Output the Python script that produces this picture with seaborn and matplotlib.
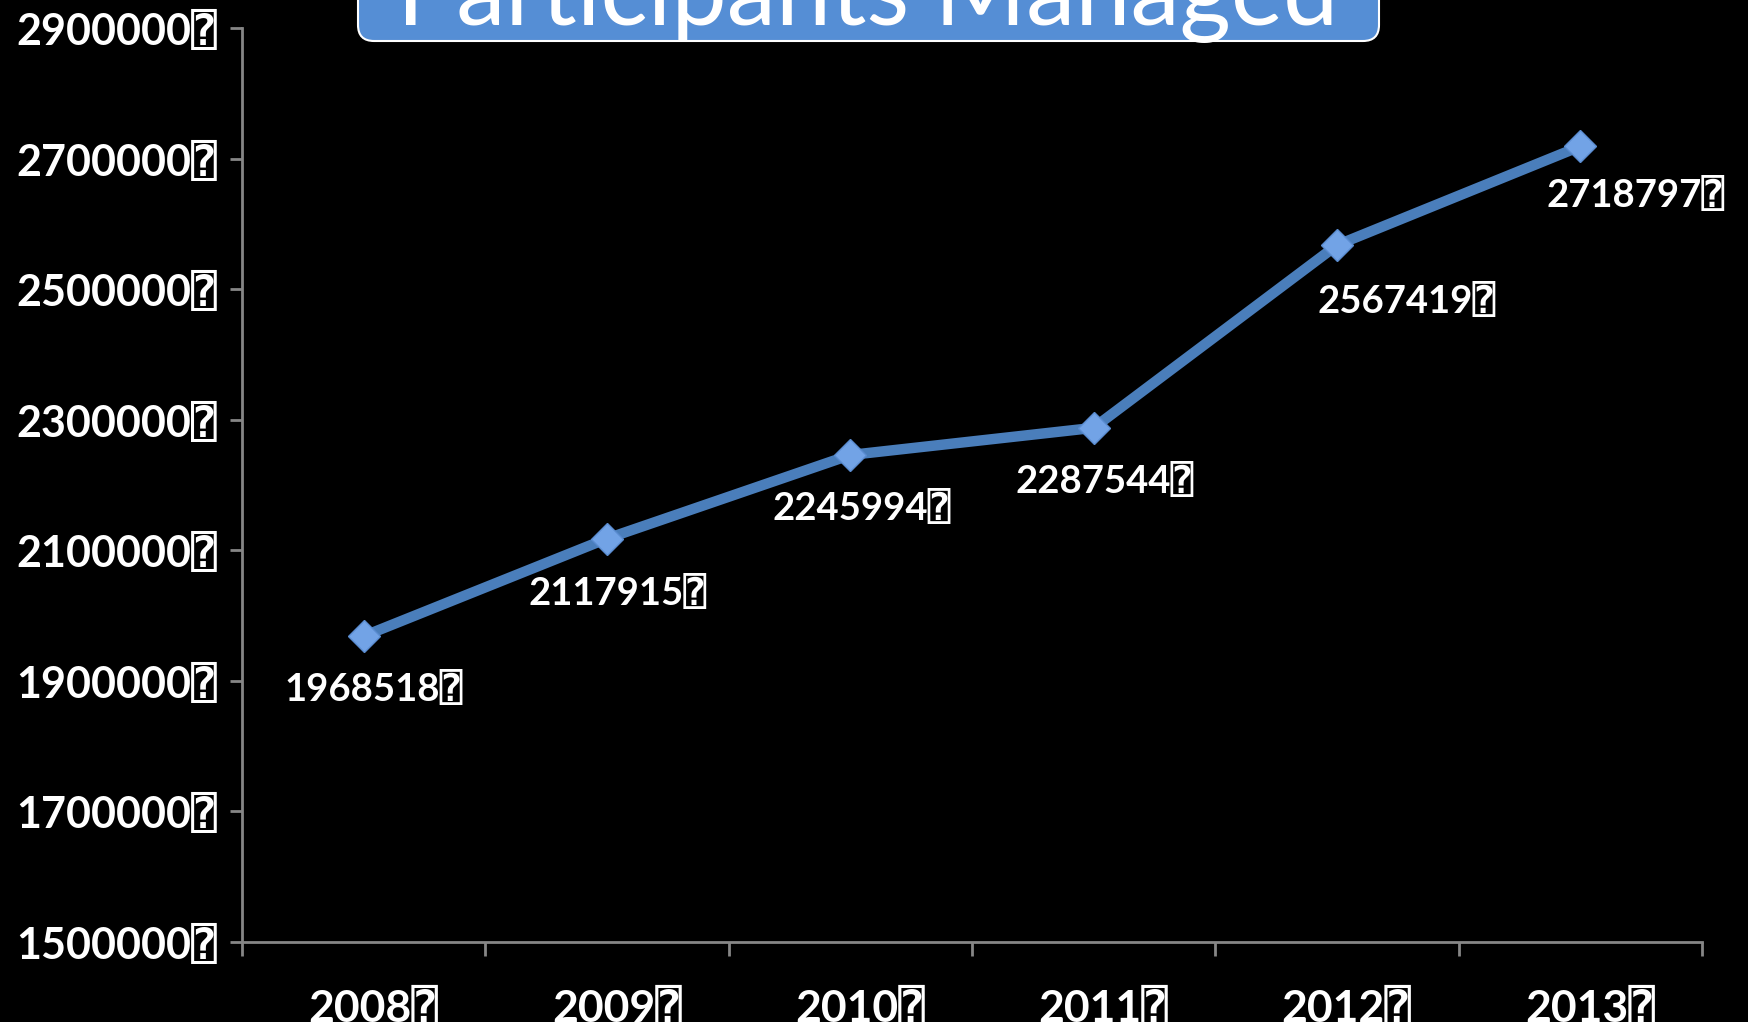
import numpy as np
import pandas as pd
import matplotlib
matplotlib.use('Agg')
import matplotlib.pyplot as plt
from matplotlib.patches import FancyBboxPatch
import seaborn as sns

# Data
years = ['2008', '2009', '2010', '2011', '2012', '2013']
participants = [1968518, 2117915, 2245994, 2287544, 2567419, 2718797]
y_ticks = [1500000, 1700000, 1900000, 2100000, 2300000, 2500000, 2700000, 2900000]
title = 'Participants Managed'
tofu = '\u2370'

# label offsets (points) for the data labels
label_dx = [7, 8, 8, 8, 50, 40]
label_dy = [-38, -39, -38, -38, -40, -35]

sns.set_style('dark')
plt.rcParams['font.family'] = ['Lato', 'DejaVu Sans', 'DejaVu Sans Mono']

df = pd.DataFrame({'Year': years, 'Participants': participants})

fig = plt.figure(figsize=(17.48, 10.22), dpi=100, facecolor='black')
ax = fig.add_axes([242 / 1748, 80 / 1022, 1460 / 1748, 914 / 1022])
ax.set_facecolor('black')

sns.lineplot(data=df, x='Year', y='Participants', ax=ax, color='#4a7ebb',
             linewidth=7.5, marker='D', markersize=16, markerfacecolor='#72a3e6',
             markeredgecolor='#5a8cd0', markeredgewidth=1)

for i, (yr, v) in enumerate(zip(years, participants)):
    ax.annotate(f'{v}{tofu}', (i, v), xytext=(label_dx[i], label_dy[i]),
                textcoords='offset points', ha='center', va='center',
                color='white', fontsize=27.5, fontweight='bold')

ax.set_xlim(-0.5, len(years) - 0.5)
ax.set_ylim(y_ticks[0], y_ticks[-1])
ax.set_yticks(y_ticks)
ax.set_yticklabels([f'{t}{tofu}' for t in y_ticks])
ax.set_xticks(np.arange(-0.5, len(years)), labels=[''] * (len(years) + 1))
ax.set_xticks(np.arange(len(years)) + 0.04, labels=[f'{y}{tofu}' for y in years], minor=True)
ax.tick_params(axis='x', which='major', bottom=True, length=10, width=2,
               color='#868686', direction='out')
ax.tick_params(axis='x', which='minor', bottom=True, length=0, pad=32, labelsize=32,
               labelcolor='white')
ax.tick_params(axis='y', left=True, length=9, width=2, color='#868686', direction='out',
               pad=9, labelsize=31, labelcolor='white')
for lab in ax.get_xticklabels(minor=True) + ax.get_yticklabels():
    lab.set_fontweight('bold')
ax.set_xlabel('')
ax.set_ylabel('')
ax.grid(False)
for side in ['top', 'right']:
    ax.spines[side].set_visible(False)
for side in ['left', 'bottom']:
    ax.spines[side].set_visible(True)
    ax.spines[side].set_color('#868686')
    ax.spines[side].set_linewidth(2)

# title box, cut by the top edge of the figure
box = FancyBboxPatch((3.58, 9.81), 10.21, 1.0,
                     boxstyle='round,pad=0,rounding_size=0.16',
                     transform=fig.dpi_scale_trans, facecolor='#558ed5',
                     edgecolor='white', linewidth=1.5, clip_on=False)
fig.add_artist(box)
t = fig.text(868 / 1748, 1 - 25 / 1022, title, ha='center', va='baseline',
             color='white', fontsize=60)
fig.canvas.draw()
w = t.get_window_extent().width
t.set_fontsize(60 * 942 / w)

fig.savefig('out.png', dpi=100, facecolor='black')
